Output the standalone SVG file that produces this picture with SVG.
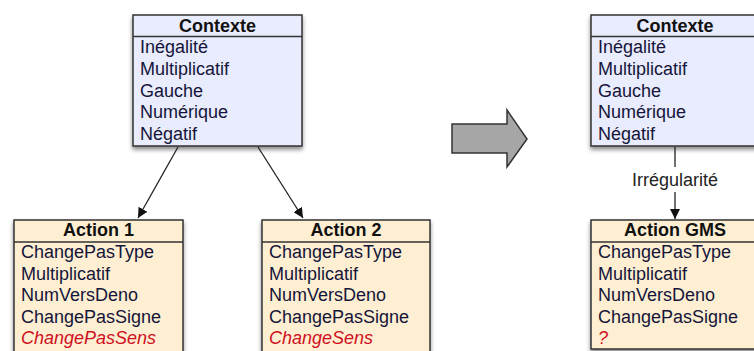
<svg xmlns="http://www.w3.org/2000/svg" width="754" height="351" viewBox="0 0 754 351">
<defs>
<filter id="sh" x="-10%" y="-10%" width="120%" height="130%">
<feDropShadow dx="0" dy="3" stdDeviation="2.2" flood-color="#000" flood-opacity="0.45"/>
</filter>
<marker id="ah" viewBox="0 0 10 10" refX="10" refY="5" markerWidth="10" markerHeight="10" markerUnits="userSpaceOnUse" orient="auto">
<path d="M0,0 L10,5 L0,10 z" fill="#111"/>
</marker>
</defs>
<style>
.ctx{fill:#E9ECFD;stroke:#333;stroke-width:1.5}
.act{fill:#FEEFD2;stroke:#333;stroke-width:1.5}
.div{stroke:#333;stroke-width:1.5}
text{font-family:"Liberation Sans",Arial,sans-serif;font-size:18px;fill:#15153a}
.h{font-weight:bold;text-anchor:middle;fill:#111}
.r{fill:#D0101E;font-style:italic}
.ln{stroke:#222;stroke-width:1.3;fill:none}
</style>
<rect width="754" height="351" fill="#fff"/>

<g id="contexte-left">
<rect class="ctx" x="133" y="15" width="169" height="131" filter="url(#sh)"/>
<line class="div" x1="133" y1="36.5" x2="302" y2="36.5"/>
<text class="h" x="217.5" y="31.5">Contexte</text>
<text x="140" y="53">Inégalité</text>
<text x="140" y="74.75">Multiplicatif</text>
<text x="140" y="96.5">Gauche</text>
<text x="140" y="118.25">Numérique</text>
<text x="140" y="140">Négatif</text>
</g>

<g id="action1">
<rect class="act" x="14" y="220" width="169" height="132" filter="url(#sh)"/>
<line class="div" x1="14" y1="242" x2="183" y2="242"/>
<text class="h" x="98.5" y="236">Action 1</text>
<text x="21" y="258">ChangePasType</text>
<text x="21" y="279.5">Multiplicatif</text>
<text x="21" y="301">NumVersDeno</text>
<text x="21" y="322.5">ChangePasSigne</text>
<text class="r" x="21" y="344">ChangePasSens</text>
</g>

<g id="action2">
<rect class="act" x="262" y="220" width="168" height="132" filter="url(#sh)"/>
<line class="div" x1="262" y1="242" x2="430" y2="242"/>
<text class="h" x="346" y="236">Action 2</text>
<text x="269" y="258">ChangePasType</text>
<text x="269" y="279.5">Multiplicatif</text>
<text x="269" y="301">NumVersDeno</text>
<text x="269" y="322.5">ChangePasSigne</text>
<text class="r" x="269" y="344">ChangeSens</text>
</g>

<g id="big-arrow">
<polygon points="452,124 507,124 507,110 527,139 507,167 507,153 452,153" fill="#A6A6A6" stroke="#333" stroke-width="1.5" stroke-linejoin="miter"/>
</g>

<g id="contexte-right">
<rect class="ctx" x="591" y="15" width="168" height="131" filter="url(#sh)"/>
<line class="div" x1="591" y1="36.5" x2="759" y2="36.5"/>
<text class="h" x="675" y="31.5">Contexte</text>
<text x="598" y="53">Inégalité</text>
<text x="598" y="74.75">Multiplicatif</text>
<text x="598" y="96.5">Gauche</text>
<text x="598" y="118.25">Numérique</text>
<text x="598" y="140">Négatif</text>
</g>

<g id="action-gms">
<rect class="act" x="591" y="220" width="168" height="129" filter="url(#sh)"/>
<line class="div" x1="591" y1="242" x2="759" y2="242"/>
<text class="h" x="675" y="236">Action GMS</text>
<text x="598" y="258">ChangePasType</text>
<text x="598" y="279.5">Multiplicatif</text>
<text x="598" y="301">NumVersDeno</text>
<text x="598" y="322.5">ChangePasSigne</text>
<text class="r" x="598" y="344">?</text>
</g>

<g id="connectors">
<line class="ln" x1="178" y1="147" x2="138" y2="218" marker-end="url(#ah)"/>
<line class="ln" x1="258" y1="147" x2="303" y2="218" marker-end="url(#ah)"/>
<line class="ln" x1="675" y1="147" x2="675" y2="167"/>
<line class="ln" x1="675" y1="192" x2="675" y2="219" marker-end="url(#ah)"/>
<text x="675" y="186" text-anchor="middle" fill="#222" style="fill:#222">Irrégularité</text>
</g>
</svg>
